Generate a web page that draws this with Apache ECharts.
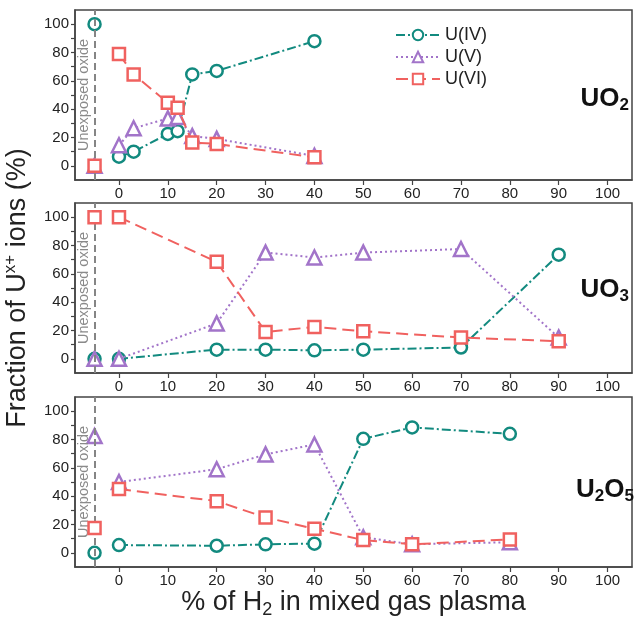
<!DOCTYPE html>
<html>
<head>
<meta charset="utf-8">
<script src="https://cdn.jsdelivr.net/npm/echarts@6/dist/echarts.min.js"></script>
<style>html,body{margin:0;padding:0;background:#fff}#c{width:635px;height:619px}</style>
</head>
<body>
<div id="c"></div>
<script>
// ---- data ----
const seriesNames = ['U(IV)', 'U(V)', 'U(VI)'];
const unexposedX = -5;
const xTickLabels = [0, 10, 20, 30, 40, 50, 60, 70, 80, 90, 100];
const yTickLabels = [0, 20, 40, 60, 80, 100];
const yTicks = [0, 10, 20, 30, 40, 50, 60, 70, 80, 90, 100];

// UO2 panel
const xUO2 = [0, 3, 10, 12, 15, 20, 40];
const uo2_IV = [6.5, 10, 22.5, 24.5, 64.5, 67, 88];
const uo2_V = [14.5, 26.5, 33.5, 34.5, 21, 19, 7];
const uo2_VI = [79, 64.5, 44.5, 41, 16.5, 15.5, 6];
const uo2_unexposed = [100, 0, 0]; // IV, V, VI

// UO3 panel
const xUO3 = [0, 20, 30, 40, 50, 70, 90];
const uo3_IV = [0, 6.5, 6.5, 6, 6.5, 8, 73.5];
const uo3_V = [0, 25, 75, 71.5, 75, 77.5, 15];
const uo3_VI = [100, 68.5, 19, 22.5, 19.5, 15, 12.5];
const uo3_unexposed = [0, 0, 100];

// U2O5 panel
const xU2O5 = [0, 20, 30, 40, 50, 60, 80];
const u2o5_IV = [5.5, 5, 6, 6.5, 80.5, 88.5, 84];
const u2o5_V = [50, 59, 69.5, 76.5, 11, 6, 7.5];
const u2o5_VI = [45, 36.5, 25, 17, 9, 6, 9.5];
const u2o5_unexposed = [0, 82.5, 17.5];

const panelLabels = ['UO{s|2}', 'UO{s|3}', 'U{s|2}O{s|5}'];

// ---- styles ----
const colors = ['#128a7f', '#a274c9', '#f0615f'];
const symbols = ['circle', 'triangle', 'rect'];
const symbolSizes = [12, 14, 12];
const dashes = [[9, 3, 2, 3], [2, 3], [12, 6]];
const FONT = 'Liberation Sans, Arial, sans-serif';

const panels = [
  { xs: xUO2, ys: [uo2_IV, uo2_V, uo2_VI], unexp: uo2_unexposed },
  { xs: xUO3, ys: [uo3_IV, uo3_V, uo3_VI], unexp: uo3_unexposed },
  { xs: xU2O5, ys: [u2o5_IV, u2o5_V, u2o5_VI], unexp: u2o5_unexposed }
];

const gridTops = [10, 203, 397];
const grids = gridTops.map(t => ({
  left: 75, right: 3, top: t, height: 170, show: true,
  outerBoundsMode: 'none', containLabel: false,
  borderColor: '#444', borderWidth: 1.5, backgroundColor: 'transparent'
}));

const xAxes = gridTops.map((t, i) => ({
  type: 'value', gridIndex: i, min: -9, max: 105,
  axisLine: { show: true, onZero: false, lineStyle: { color: '#444', width: 1.5 } },
  axisTick: { show: true, customValues: xTickLabels, length: 5, lineStyle: { color: '#444', width: 1.2 } },
  axisLabel: { customValues: xTickLabels, fontSize: 15, color: '#222', margin: 6, fontFamily: FONT },
  splitLine: { show: false },
  name: i === 2 ? '% of H{sub|2} in mixed gas plasma' : '',
  nameLocation: 'middle', nameGap: 20,
  nameTextStyle: {
    fontSize: 27, color: '#222', fontFamily: FONT,
    rich: { sub: { fontSize: 18, fontFamily: FONT, color: '#222', verticalAlign: 'bottom', padding: [14, 0, 0, 0] } }
  }
}));

const yAxes = gridTops.map((t, i) => ({
  type: 'value', gridIndex: i, min: -10, max: 110,
  axisLine: { show: true, onZero: false, lineStyle: { color: '#444', width: 1.5 } },
  axisTick: { show: true, customValues: yTicks, length: 4, lineStyle: { color: '#444', width: 1.2 } },
  axisLabel: { customValues: yTickLabels, fontSize: 15, color: '#222', margin: 6, fontFamily: FONT },
  splitLine: { show: false },
  name: i === 1 ? 'Fraction of U{sup|x+} ions (%)' : '',
  nameLocation: 'middle', nameGap: 42, nameRotate: 90,
  nameTextStyle: {
    fontSize: 27, color: '#222', fontFamily: FONT,
    rich: { sup: { fontSize: 17, fontFamily: FONT, color: '#222', verticalAlign: 'top', padding: [0, 0, 14, 0] } }
  }
}));

const series = [];
panels.forEach((p, pi) => {
  p.ys.forEach((ys, si) => {
    series.push({
      name: seriesNames[si], type: 'line', xAxisIndex: pi, yAxisIndex: pi,
      data: p.xs.map((x, k) => [x, ys[k]]),
      symbol: symbols[si], symbolSize: symbolSizes[si], showAllSymbol: true,
      lineStyle: { color: colors[si], width: 2, type: dashes[si] },
      itemStyle: { color: '#fff', borderColor: colors[si], borderWidth: 2.5 },
      z: 3 + si, animation: false,
      markLine: si === 0 ? {
        silent: true, symbol: 'none', animation: false,
        lineStyle: { color: '#858585', width: 2, type: [7, 4] },
        label: { show: true, formatter: 'Unexposed oxide', position: 'insideMiddleTop', distance: 3,
                 fontSize: 14.5, color: '#8a8a8a', fontFamily: FONT },
        data: [{ xAxis: unexposedX }]
      } : undefined
    });
  });
  p.unexp.forEach((v, si) => {
    series.push({
      name: seriesNames[si], type: 'scatter', xAxisIndex: pi, yAxisIndex: pi,
      data: [[unexposedX, v]],
      symbol: symbols[si], symbolSize: symbolSizes[si],
      itemStyle: { color: '#fff', borderColor: colors[si], borderWidth: 2.5, opacity: 1 },
      z: 3 + si, animation: false
    });
  });
});

const graphic = panelLabels.map((txt, i) => ({
  type: 'text', right: i === 2 ? 1 : 6, top: [86, 277, 477][i], z: 10,
  style: {
    text: txt, font: 'bold 26px ' + FONT, fill: '#111',
    rich: { s: { font: 'bold 17px ' + FONT, fill: '#111', verticalAlign: 'bottom', padding: [13, 0, 0, 0] } }
  }
}));

const chart = echarts.init(document.getElementById('c'), null, { renderer: 'canvas' });
chart.setOption({
  animation: false,
  backgroundColor: '#fff',
  grid: grids, xAxis: xAxes, yAxis: yAxes, series: series,
  legend: {
    data: seriesNames, orient: 'vertical', left: 395, top: 26, padding: 0,
    itemWidth: 44, itemHeight: 13, itemGap: 4,
    textStyle: { fontSize: 18, color: '#222', fontFamily: FONT }
  },
  graphic: graphic
});
</script>
</body>
</html>
